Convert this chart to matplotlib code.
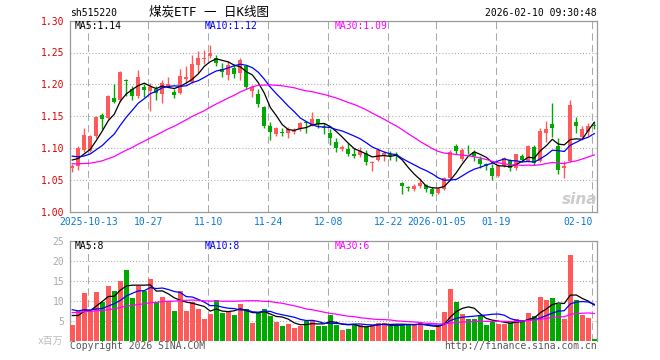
import numpy as np
import pandas as pd
import matplotlib
matplotlib.use('Agg')
import matplotlib.pyplot as plt

# daily candles, 2025-09-30 .. 2026-02-10 (88 sessions)
opens = [1.068, 1.072, 1.096, 1.095, 1.118, 1.151, 1.147, 1.179, 1.176, 1.207,
         1.193, 1.181, 1.196, 1.189, 1.192, 1.184, 1.198, 1.188, 1.186, 1.209,
         1.204, 1.230, 1.240, 1.245, 1.242, 1.224, 1.215, 1.225, 1.217, 1.229,
         1.189, 1.185, 1.164, 1.134, 1.122, 1.125, 1.124, 1.125, 1.130, 1.140,
         1.136, 1.145, 1.133, 1.124, 1.110, 1.099, 1.099, 1.090, 1.089, 1.092,
         1.076, 1.081, 1.087, 1.090, 1.090, 1.045, 1.0385, 1.035, 1.040, 1.042,
         1.036, 1.029, 1.036, 1.053, 1.103, 1.082, 1.097, 1.094, 1.082, 1.075,
         1.068, 1.056, 1.071, 1.081, 1.068, 1.088, 1.079, 1.102, 1.079, 1.123,
         1.138, 1.103, 1.069, 1.079, 1.140, 1.117, 1.125, 1.136]
highs = [1.075, 1.103, 1.131, 1.120, 1.150, 1.155, 1.183, 1.200, 1.221, 1.208,
         1.197, 1.223, 1.201, 1.202, 1.198, 1.207, 1.212, 1.192, 1.224, 1.228,
         1.246, 1.253, 1.254, 1.262, 1.246, 1.233, 1.236, 1.232, 1.242, 1.231,
         1.199, 1.193, 1.166, 1.141, 1.133, 1.131, 1.133, 1.131, 1.140, 1.143,
         1.157, 1.146, 1.139, 1.129, 1.115, 1.104, 1.108, 1.100, 1.101, 1.096,
         1.079, 1.100, 1.095, 1.095, 1.094, 1.046, 1.040, 1.043, 1.053, 1.043,
         1.038, 1.038, 1.054, 1.096, 1.106, 1.100, 1.105, 1.097, 1.087, 1.077,
         1.074, 1.074, 1.086, 1.083, 1.091, 1.090, 1.104, 1.104, 1.131, 1.142,
         1.170, 1.115, 1.079, 1.176, 1.148, 1.134, 1.139, 1.140]
lows = [1.062, 1.066, 1.094, 1.094, 1.115, 1.130, 1.145, 1.170, 1.172, 1.181,
        1.176, 1.178, 1.180, 1.158, 1.175, 1.171, 1.195, 1.178, 1.185, 1.202,
        1.202, 1.218, 1.232, 1.241, 1.228, 1.212, 1.207, 1.210, 1.207, 1.192,
        1.180, 1.165, 1.132, 1.113, 1.118, 1.119, 1.115, 1.122, 1.127, 1.123,
        1.134, 1.131, 1.122, 1.104, 1.094, 1.095, 1.087, 1.084, 1.085, 1.073,
        1.064, 1.079, 1.080, 1.081, 1.079, 1.027, 1.033, 1.032, 1.037, 1.031,
        1.024, 1.027, 1.034, 1.050, 1.090, 1.080, 1.090, 1.080, 1.069, 1.065,
        1.050, 1.054, 1.070, 1.064, 1.066, 1.078, 1.078, 1.073, 1.078, 1.110,
        1.117, 1.059, 1.053, 1.078, 1.123, 1.113, 1.118, 1.130]
closes = [1.071, 1.100, 1.121, 1.118, 1.148, 1.146, 1.181, 1.172, 1.220, 1.205,
          1.181, 1.212, 1.191, 1.196, 1.186, 1.202, 1.200, 1.183, 1.213, 1.212,
          1.232, 1.242, 1.242, 1.250, 1.234, 1.220, 1.230, 1.216, 1.238, 1.195,
          1.195, 1.169, 1.134, 1.125, 1.131, 1.124, 1.130, 1.128, 1.139, 1.139,
          1.145, 1.138, 1.131, 1.115, 1.100, 1.101, 1.090, 1.088, 1.095, 1.078,
          1.078, 1.097, 1.092, 1.088, 1.088, 1.040, 1.0375, 1.040, 1.045, 1.036,
          1.028, 1.035, 1.053, 1.094, 1.095, 1.097, 1.096, 1.087, 1.074, 1.072,
          1.056, 1.071, 1.084, 1.069, 1.090, 1.081, 1.103, 1.077, 1.126, 1.130,
          1.132, 1.065, 1.071, 1.168, 1.135, 1.129, 1.135, 1.135]
volumes = [4.0, 7.5, 12.0, 7.5, 12.3, 9.7, 13.7, 12.4, 15.0, 17.6,
           10.7, 13.7, 12.4, 15.4, 9.8, 11.0, 10.0, 7.4, 12.4, 7.4,
           9.7, 7.9, 5.4, 6.6, 10.1, 7.0, 7.3, 6.4, 9.1, 7.9,
           4.5, 6.9, 8.0, 6.1, 4.8, 3.8, 4.25, 3.3, 3.8, 5.0,
           5.0, 3.8, 3.6, 6.5, 4.0, 2.75, 3.0, 4.1, 4.0, 3.5,
           4.0, 4.5, 4.5, 3.8, 3.8, 4.0, 4.2, 4.2, 4.5, 2.75,
           2.75, 3.6, 7.25, 13.0, 9.8, 6.75, 5.5, 5.5, 6.1, 4.0,
           4.6, 4.25, 4.25, 4.6, 5.5, 5.25, 7.0, 6.25, 11.0, 10.1,
           10.75, 9.1, 5.5, 21.5, 10.25, 6.5, 5.8, 0.5]

# sessions before the visible window (estimated from where the MA lines start)
pre_close = [1.108, 1.104, 1.101, 1.099,
             1.085, 1.078, 1.072, 1.066, 1.060, 1.055, 1.052, 1.050, 1.048, 1.050,
             1.053, 1.055, 1.058, 1.060, 1.063, 1.068,
             1.110, 1.108, 1.085, 1.082, 1.080,
             1.088, 1.085, 1.082, 1.079]
pre_vol = [6.0, 5.5, 7.0, 6.5, 8.0, 7.5, 6.0, 5.0, 6.5, 7.0,
           6.0, 7.5, 6.5, 7.0, 6.0, 7.5, 6.5, 7.0, 6.5, 7.5,
           10.5, 9.0, 8.5, 9.5, 8.5,
           7.5, 6.5, 7.0, 6.5]

tick_idx = [3, 13, 23, 33, 43, 53, 61, 71, 87]
tick_labels = ['2025-10-13', '10-27', '11-10', '11-24', '12-08',
               '12-22', '2026-01-05', '01-19', '02-10']

RED, GREEN = '#ff5a5a', '#00a800'
MA_COLORS = {5: '#000000', 10: '#0000ff', 30: '#ff00ff'}
GRID = '#aaaaaa'
MONO = 'DejaVu Sans Mono'

n = len(closes)
x = np.arange(n)
o, h, l, c = map(np.array, (opens, highs, lows, closes))
v = np.array(volumes)
up = c >= o
cols = np.where(up, RED, GREEN)

close_all = pd.Series(pre_close + closes)
vol_all = pd.Series(pre_vol + volumes)
ma_p = {k: close_all.rolling(k).mean().values[-n:] for k in (5, 10, 30)}
ma_v = {k: vol_all.rolling(k).mean().values[-n:] for k in (5, 10, 30)}

W, H = 660, 360
fig = plt.figure(figsize=(W / 100, H / 100), dpi=100)


def box(left, top, right, bottom):
    return [left / W, 1 - bottom / H, (right - left) / W, (bottom - top) / H]


ax = fig.add_axes(box(70, 20.7, 597, 211.5))
axv = fig.add_axes(box(70, 240.7, 597, 340.7))

xlim = (-0.38, 87.45)
grid_x = [i - 0.3 for i in tick_idx]

for a in (ax, axv):
    a.set_xlim(*xlim)
    for gx in grid_x:
        a.axvline(gx, color=GRID, lw=0.75, ls=(0, (7, 4)), zorder=0)
    for s in a.spines.values():
        s.set_color('#999999')
        s.set_linewidth(0.9)

# price panel
ax.set_ylim(1.00, 1.30)
for yv in np.arange(1.05, 1.26, 0.05):
    ax.axhline(yv, color=GRID, lw=0.75, ls=(0, (1, 2)), zorder=0)
ax.vlines(x, l, h, colors=cols, lw=1.0, zorder=2)
body = np.maximum(np.abs(c - o), 0.0009)
ax.bar(x, body, bottom=np.minimum(o, c), width=0.7, color=cols, lw=0, zorder=3)
for k in (5, 10, 30):
    ax.plot(x, ma_p[k], color=MA_COLORS[k], lw=0.9, zorder=4)
ax.set_yticks(np.arange(1.00, 1.301, 0.05))
ax.set_yticklabels(['%.2f' % t for t in np.arange(1.00, 1.301, 0.05)],
                   family=MONO, fontsize=7, color='#e00000')
ax.set_xticks(grid_x)
ax.set_xticklabels(tick_labels, family=MONO, fontsize=7, color='#0a78d2')
ax.get_xticklabels()[-1].set_horizontalalignment('right')
ax.tick_params(length=0, pad=4)

# volume panel
axv.set_ylim(0, 25)
for yv in (5, 10, 15, 20):
    axv.axhline(yv, color=GRID, lw=0.75, ls=(0, (1, 2)), zorder=0)
axv.bar(x, v, width=0.83, color=cols, lw=0, zorder=3)
for k in (5, 10, 30):
    axv.plot(x, ma_v[k], color=MA_COLORS[k], lw=0.9, zorder=4)
axv.set_yticks([5, 10, 15, 20, 25])
axv.set_yticklabels(['5', '10', '15', '20', '25'], family=MONO, fontsize=7, color='#aaaaaa')
axv.set_xticks([])
axv.tick_params(length=0, pad=4)
axv.spines['bottom'].set_visible(False)


def ptext(px, py, s, **kw):
    fig.text(px / W, 1 - py / H, s, va='center', **kw)


# header
ptext(70, 13, 'sh515220', family=MONO, fontsize=7)
ptext(209, 12.5, '煤炭ETF 一 日K线图', ha='center', family=[MONO, 'Noto Sans CJK SC'], fontsize=9)
ptext(597, 12.5, '2026-02-10 09:30:48', ha='right', family=MONO, fontsize=7)

# MA legends
ptext(75, 26, 'MA5:1.14', family=MONO, fontsize=7, color=MA_COLORS[5])
ptext(205, 26, 'MA10:1.12', family=MONO, fontsize=7, color=MA_COLORS[10])
ptext(335, 26, 'MA30:1.09', family=MONO, fontsize=7, color=MA_COLORS[30])
ptext(75, 246, 'MA5:8', family=MONO, fontsize=7, color=MA_COLORS[5])
ptext(205, 246, 'MA10:8', family=MONO, fontsize=7, color=MA_COLORS[10])
ptext(335, 246, 'MA30:6', family=MONO, fontsize=7, color=MA_COLORS[30])

# footer
ptext(38, 341, 'x百万', family=[MONO, 'Noto Sans CJK SC'], fontsize=7, color='#bbbbbb')
ptext(70, 346, 'Copyright 2026 SINA.COM', family=MONO, fontsize=7, color='#555555')
ptext(597, 346, 'http://finance.sina.com.cn', ha='right', family=MONO, fontsize=7, color='#555555')

# watermark
ptext(580, 199, 'sina', ha='center', family='DejaVu Sans', fontsize=11,
      fontweight='bold', style='italic', color='#cccccc')

fig.savefig('out.png', dpi=100)
